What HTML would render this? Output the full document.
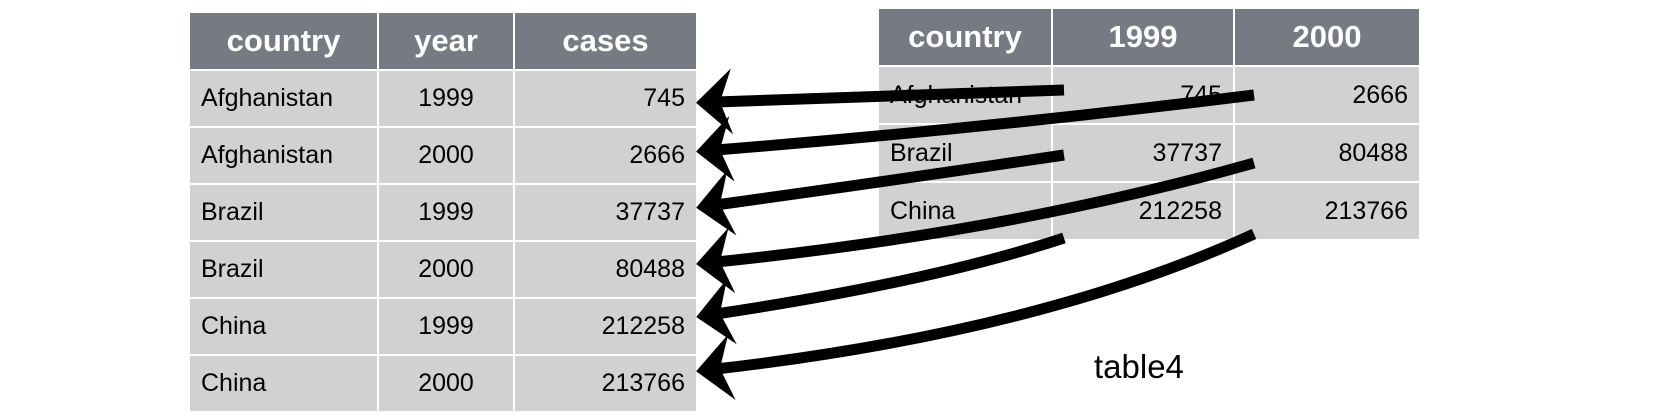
<!DOCTYPE html>
<html><head><meta charset="utf-8"><style>
body{margin:0;width:1666px;height:419px;background:#fff;overflow:hidden;position:relative;font-family:"Liberation Sans",Arial,sans-serif}
.t{position:absolute;border-collapse:collapse}
.t td,.t th{border:2px solid #fff;padding:0 11px;box-sizing:border-box}
.t th{background:#767a83;color:#fff;font-weight:bold;font-size:31px;text-align:center}
.t td{background:#d0d1d3;color:#000;font-size:25px}
.r{text-align:right}.c{text-align:center}.l{text-align:left}
</style></head><body>
<table class="t" style="left:188px;top:11px;">
<tr style="height:58px"><th style="width:189px">country</th><th style="width:136px">year</th><th style="width:183px">cases</th></tr>
<tr style="height:57px"><td class="l">Afghanistan</td><td class="c">1999</td><td class="r">745</td></tr>
<tr style="height:57px"><td class="l">Afghanistan</td><td class="c">2000</td><td class="r">2666</td></tr>
<tr style="height:57px"><td class="l">Brazil</td><td class="c">1999</td><td class="r">37737</td></tr>
<tr style="height:57px"><td class="l">Brazil</td><td class="c">2000</td><td class="r">80488</td></tr>
<tr style="height:57px"><td class="l">China</td><td class="c">1999</td><td class="r">212258</td></tr>
<tr style="height:57px"><td class="l">China</td><td class="c">2000</td><td class="r">213766</td></tr>
</table>
<table class="t" style="left:877px;top:7px;">
<tr style="height:58px"><th style="width:174px">country</th><th style="width:182px">1999</th><th style="width:186px">2000</th></tr>
<tr style="height:58px"><td class="l">Afghanistan</td><td class="r">745</td><td class="r">2666</td></tr>
<tr style="height:58px"><td class="l">Brazil</td><td class="r">37737</td><td class="r">80488</td></tr>
<tr style="height:58px"><td class="l">China</td><td class="r">212258</td><td class="r">213766</td></tr>
</table>
<div style="position:absolute;left:1094px;top:348px;font-size:33px">table4</div>
<svg width="1666" height="419" style="position:absolute;left:0;top:0">
<defs><marker id="ah" markerUnits="userSpaceOnUse" markerWidth="50" markerHeight="80" refX="0" refY="0" viewBox="-25 -40 50 80" orient="auto-start-reverse"><path d="M20 0 L-16 -33 L-4 0 L-16 33 Z" fill="#000"/></marker></defs>
<g fill="none" stroke="#000" stroke-width="11">
<path marker-start="url(#ah)" d="M716 102 L1064 90"/>
<path marker-start="url(#ah)" d="M716 150 Q990 128 1254 95"/>
<path marker-start="url(#ah)" d="M716 205 Q910 178 1064 155"/>
<path marker-start="url(#ah)" d="M716 262 Q1010 232 1254 163"/>
<path marker-start="url(#ah)" d="M716 314 Q930 282 1064 238"/>
<path marker-start="url(#ah)" d="M716 369 Q1040 332 1254 234"/>
</g></svg>
</body></html>
